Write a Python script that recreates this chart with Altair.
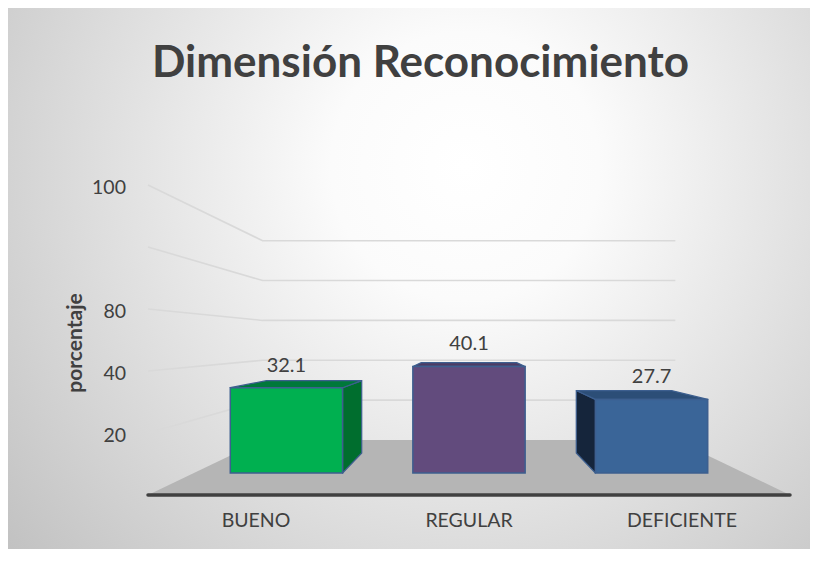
import altair as alt
import pandas as pd

# ---- data ----
categories = ["BUENO", "REGULAR", "DEFICIENTE"]
values = [32.1, 40.1, 27.7]
value_labels = ["32.1", "40.1", "27.7"]
tick_values = [20, 40, 60, 80, 100]
tick_labels = ["20", "40", "80", "", "100"]
front_colors = ["#00b050", "#624b7d", "#3a6598"]
top_colors = ["#00783a", "#4c3b64", "#2c4e77"]
side_colors = ["#006e2e", "#3f3053", "#15253b"]
title_text = ["Dimensión Reconocimiento"]
y_title = ["porcentaje"]

# ---- layout / style constants (pseudo-3D projection) ----
W, H = 802, 541
OFF = 8
CX, HORIZON, BASE0, PX_PER_UNIT, SHRINK = 469, 341, 495, 3.1, 0.357
FLOOR_HALF = 321
BAR_D0, BAR_D1 = 0.4, 0.764
BAR_SPACING, BAR_HALF = 213, 65.5
FONT = "Lato"
TXT = "#404040"


def f(d):
    return 1 - SHRINK * d


def px(X, d):
    return CX + X * f(d) - OFF


def py(v, d):
    return HORIZON + (BASE0 - HORIZON - PX_PER_UNIT * v) * f(d) - OFF


XS = alt.Scale(domain=[0, W], range=[0, W], nice=False, zero=False)
YS = alt.Scale(domain=[0, H], range=[0, H], nice=False, zero=False)


def X(field):
    return alt.X(field, type="quantitative", scale=XS, axis=None)


def Y(field):
    return alt.Y(field, type="quantitative", scale=YS, axis=None)


# gridlines (left wall + back wall)
grid_rows = []
for t in tick_values:
    pts = [(-FLOOR_HALF, 0), (-FLOOR_HALF, 1), (FLOOR_HALF, 1)]
    for o, (xx, d) in enumerate(pts):
        grid_rows.append({"tick": t, "o": o, "x": px(xx, d), "y": py(t, d)})
grid_df = pd.DataFrame(grid_rows)

# floor
floor_df = pd.DataFrame([
    {"y": py(0, 0), "x": px(-FLOOR_HALF, 0), "x2": px(FLOOR_HALF, 0)},
    {"y": py(0, 1), "x": px(-FLOOR_HALF, 1), "x2": px(FLOOR_HALF, 1)},
])
axis_df = pd.DataFrame([{"x": px(-FLOOR_HALF, 0), "x2": px(FLOOR_HALF, 0), "y": py(0, 0)}])

front_rows, top_rows, side_rows, vlab_rows, cat_rows = [], [], [], [], []
for i, (cat, v) in enumerate(zip(categories, values)):
    xc = (i - 1) * BAR_SPACING
    x0, x1 = xc - BAR_HALF, xc + BAR_HALF
    front_rows.append({"cat": cat, "fill": front_colors[i],
                       "x": px(x0, BAR_D0), "x2": px(x1, BAR_D0),
                       "y": py(v, BAR_D0), "y2": py(0, BAR_D0)})
    for d in (BAR_D0, BAR_D1):
        top_rows.append({"cat": cat, "fill": top_colors[i], "y": py(v, d),
                         "x": px(x0, d), "x2": px(x1, d)})
    side_x = x1 if x1 < 0 else (x0 if x0 > 0 else None)
    if side_x is not None:
        for d in (BAR_D0, BAR_D1):
            side_rows.append({"cat": cat, "fill": side_colors[i], "x": px(side_x, d),
                              "y": py(v, d), "y2": py(0, d)})
    vlab_rows.append({"label": value_labels[i], "x": px(xc, BAR_D0), "y": py(v, BAR_D0) - 22})
    cat_rows.append({"label": cat, "x": px(xc, 0), "y": py(0, 0) + 26})

front_df = pd.DataFrame(front_rows)
top_df = pd.DataFrame(top_rows)
side_df = pd.DataFrame(side_rows)
vlab_df = pd.DataFrame(vlab_rows)
cat_df = pd.DataFrame(cat_rows)
tick_df = pd.DataFrame({"label": tick_labels,
                        "x": [px(-FLOOR_HALF, 0) - 22] * len(tick_values),
                        "y": [py(t, 0) + 3 for t in tick_values]})
title_df = pd.DataFrame({"label": title_text, "x": [412.5], "y": [69]})
ytitle_df = pd.DataFrame({"label": y_title, "x": [68], "y": [335]})

gradient = {
    "gradient": "radial",
    "x1": 0.57, "y1": 0.36, "r1": 0.0,
    "x2": 0.57, "y2": 0.36, "r2": 0.76,
    "stops": [
        {"offset": 0.0, "color": "#ffffff"},
        {"offset": 0.22, "color": "#fbfbfb"},
        {"offset": 1.0, "color": "#c0c0c0"},
    ],
}

bg = alt.Chart(pd.DataFrame({"k": [0]})).mark_rect(fill=gradient).encode(
    x=alt.value(0), x2=alt.value(W), y=alt.value(0), y2=alt.value(H))

grid = alt.Chart(grid_df).mark_line(color="#d9d9d9", strokeWidth=1.6).encode(
    x=X("x"), y=Y("y"), detail="tick:N", order="o:Q")

floor = alt.Chart(floor_df).mark_area(orient="horizontal", color="#b5b5b5").encode(
    y=Y("y"), x=X("x"), x2=alt.X2("x2"))

axis_line = alt.Chart(axis_df).mark_rule(color="#404040", strokeWidth=3.5, strokeCap="round").encode(
    x=X("x"), x2=alt.X2("x2"), y=Y("y"))

side = alt.Chart(side_df).mark_area(stroke="#3d5f8f", strokeWidth=1.2, strokeJoin="round").encode(
    x=X("x"), y=Y("y"), y2=alt.Y2("y2"), detail="cat:N",
    fill=alt.Fill("fill:N", scale=None))

top = alt.Chart(top_df).mark_area(orient="horizontal", stroke="#3d5f8f", strokeWidth=1.2,
                                  strokeJoin="round").encode(
    y=Y("y"), x=X("x"), x2=alt.X2("x2"), detail="cat:N",
    fill=alt.Fill("fill:N", scale=None))

front = alt.Chart(front_df).mark_rect(stroke="#3d5f8f", strokeWidth=1.5).encode(
    x=X("x"), x2=alt.X2("x2"), y=Y("y"), y2=alt.Y2("y2"),
    fill=alt.Fill("fill:N", scale=None))

vlab = alt.Chart(vlab_df).mark_text(font=FONT, fontSize=20, color=TXT, baseline="middle").encode(
    x=X("x"), y=Y("y"), text="label:N")

catlab = alt.Chart(cat_df).mark_text(font=FONT, fontSize=19.5, color=TXT, baseline="middle").encode(
    x=X("x"), y=Y("y"), text="label:N")

ticklab = alt.Chart(tick_df).mark_text(font=FONT, fontSize=19.5, color=TXT, baseline="middle",
                                       align="right").encode(
    x=X("x"), y=Y("y"), text="label:N")

ytitle = alt.Chart(ytitle_df).mark_text(font=FONT, fontSize=21, fontWeight="bold", color=TXT,
                                        baseline="middle", angle=270).encode(
    x=X("x"), y=Y("y"), text="label:N")

title = alt.Chart(title_df).mark_text(font=FONT, fontSize=44, fontWeight="bold", color=TXT,
                                      baseline="alphabetic").encode(
    x=X("x"), y=Y("y"), text="label:N")

chart = alt.layer(bg, grid, floor, axis_line, side, top, front, vlab, catlab, ticklab,
                  ytitle, title).properties(
    width=W, height=H, autosize=alt.AutoSizeParams(type="none"), padding=0
).configure_view(stroke=None)

chart.save("out.html", embed_options={"renderer": "svg", "actions": False})
